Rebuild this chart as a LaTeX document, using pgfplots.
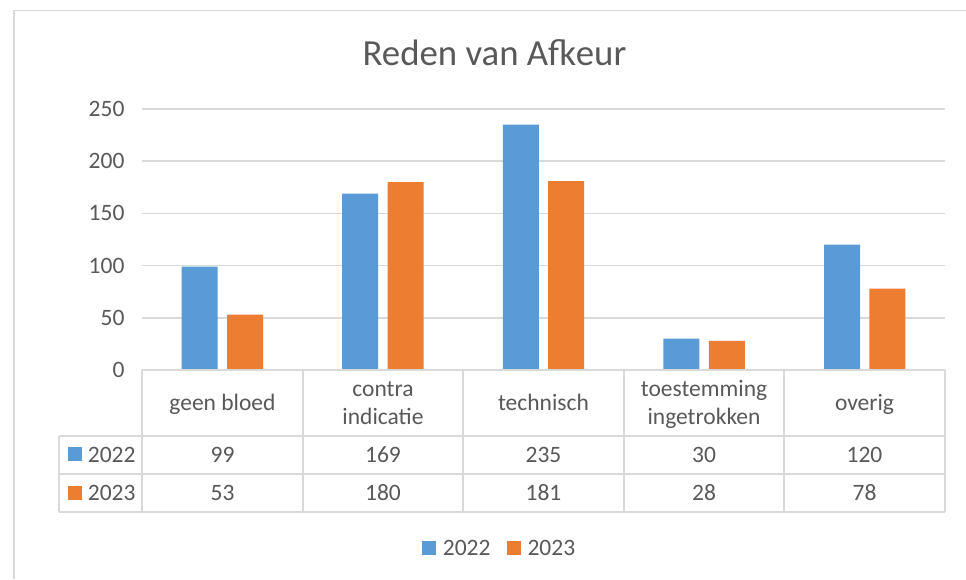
\documentclass[border=0pt]{standalone}
\usepackage{pgfplots}
\pgfplotsset{compat=1.18}
\usepackage{fontspec}
\setmainfont{Carlito}
\definecolor{b22}{HTML}{5B9BD5}
\definecolor{o23}{HTML}{ED7D31}
\definecolor{txt}{HTML}{595959}
\definecolor{grd}{HTML}{D9D9D9}
\begin{document}
\begin{tikzpicture}
\useasboundingbox (0pt,0pt) rectangle (966pt,-579pt);
\fill[white] (0pt,0pt) rectangle (966pt,-579pt);
\begin{axis}[
  at={(142pt,-370pt)}, anchor=south west,
  scale only axis, width=803pt, height=261pt,
  xmin=-0.5, xmax=4.5, ymin=0, ymax=250,
  ybar=9.4pt, bar width=36pt,
  xtick=\empty, ytick={0,50,100,150,200,250},
  ymajorgrids, grid style={grd, line width=1.5pt},
  axis line style={draw=none},
  major tick length=0pt,
  yticklabel style={font=\fontsize{23.5}{24}\selectfont, text=txt, xshift=-14pt},
  /pgf/number format/assume math mode=true,
  clip=false,
]
\addplot[fill=b22, draw=none] coordinates {(0,99) (1,169) (2,235) (3,30) (4,120)};
\addplot[fill=o23, draw=none] coordinates {(0,53) (1,180) (2,181) (3,28) (4,78)};
\end{axis}
\begin{scope}[x=1pt,y=-1pt]
  \draw[grd, line width=1.5pt] (14,579) -- (14,10.7) -- (966,10.7);
  \node[anchor=base, text=txt, font=\fontsize{36.8}{40}\selectfont, inner sep=0pt] at (494.5,65) {Reden van Afkeur};
  \begin{scope}[grd, line width=1.5pt]
    \draw (142,370) -- (945,370);
    \draw (59,436) -- (945,436);
    \draw (59,474) -- (945,474);
    \draw (59,512) -- (945,512);
    \draw (59,436) -- (59,512);
    \foreach \xx in {142,303,463,624,784,945} \draw (\xx,370) -- (\xx,512);
  \end{scope}
  \begin{scope}[every node/.style={anchor=base, text=txt, inner sep=0pt, font=\fontsize{23.5}{28}\selectfont}]
    \node at (222.5,410) {geen bloed};
    \node at (383,396) {contra};
    \node at (383,424) {indicatie};
    \node at (543.5,410) {technisch};
    \node at (704,396) {toestemming};
    \node at (704,424) {ingetrokken};
    \node at (864.5,410) {overig};
    \foreach \xx/\v in {222.5/99, 383/169, 543.5/235, 704/30, 864.5/120} \node at (\xx,462) {\v};
    \foreach \xx/\v in {222.5/53, 383/180, 543.5/181, 704/28, 864.5/78} \node at (\xx,500.5) {\v};
    \node[anchor=base west] at (87.7,462) {2022};
    \node[anchor=base west] at (87.7,500.5) {2023};
    \node[anchor=base west] at (442.7,555) {2022};
    \node[anchor=base west] at (527.3,555) {2023};
  \end{scope}
  \fill[b22] (68.3,447) rectangle (81.7,460.7);
  \fill[o23] (68.3,485.7) rectangle (81.7,499.7);
  \fill[b22] (421.7,541) rectangle (435.7,554.5);
  \fill[o23] (507.3,541) rectangle (521,554.5);
\end{scope}
\end{tikzpicture}
\end{document}
